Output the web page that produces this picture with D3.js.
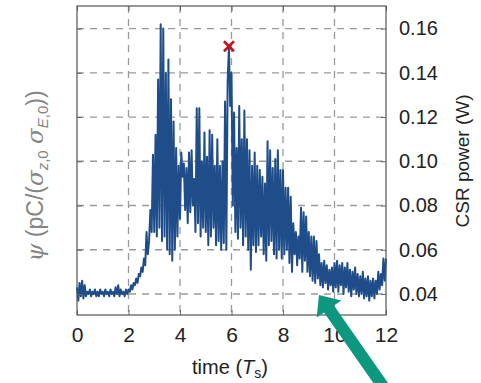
<!DOCTYPE html>
<html><head>
<meta charset="utf-8"/>
<title>CSR power</title>
<script src="https://d3js.org/d3.v7.min.js"></script>
<style>
  body { margin: 0; padding: 0; background: #fff; }
  svg text { font-family: 'Liberation Sans', Arial, sans-serif; }
</style>
</head>
<body>
<div id="chart"></div>
<script>
// time axis in T_s, sampled every 0.05
const timeStep = 0.05;
const xTicks = [0, 2, 4, 6, 8, 10, 12];
const yTicks = [0.04, 0.06, 0.08, 0.10, 0.12, 0.14, 0.16];
const yTickLabels = ["0.04", "0.06", "0.08", "0.10", "0.12", "0.14", "0.16"];

// CSR power (W), one row per unit of time
const power = [
  // 0 - 1
  0.043, 0.037, 0.045, 0.039, 0.046, 0.038, 0.044, 0.039, 0.041, 0.040,
  0.042, 0.039, 0.041, 0.040, 0.042, 0.039, 0.041, 0.039, 0.042, 0.040,
  // 1 - 2
  0.041, 0.039, 0.042, 0.040, 0.041, 0.039, 0.042, 0.040, 0.041, 0.039,
  0.043, 0.040, 0.044, 0.039, 0.042, 0.040, 0.041, 0.039, 0.042, 0.040,
  // 2 - 3
  0.042, 0.041, 0.044, 0.042, 0.045, 0.044, 0.047, 0.045, 0.049, 0.048,
  0.052, 0.050, 0.056, 0.053, 0.068, 0.058, 0.064, 0.078, 0.068, 0.103,
  // 3 - 4
  0.068, 0.112, 0.066, 0.137, 0.070, 0.162, 0.064, 0.160, 0.066, 0.140,
  0.060, 0.146, 0.058, 0.128, 0.055, 0.118, 0.060, 0.106, 0.066, 0.098,
  // 4 - 5
  0.074, 0.104, 0.093, 0.099, 0.078, 0.097, 0.072, 0.104, 0.077, 0.105,
  0.080, 0.092, 0.068, 0.124, 0.072, 0.124, 0.066, 0.100, 0.070, 0.113,
  // 5 - 6
  0.068, 0.102, 0.062, 0.114, 0.066, 0.112, 0.070, 0.098, 0.062, 0.110,
  0.064, 0.098, 0.060, 0.100, 0.063, 0.127, 0.060, 0.136, 0.151, 0.125,
  // 6 - 7
  0.140, 0.080, 0.122, 0.068, 0.106, 0.065, 0.125, 0.070, 0.110, 0.062,
  0.123, 0.066, 0.110, 0.060, 0.105, 0.051, 0.098, 0.062, 0.104, 0.059,
  // 7 - 8
  0.098, 0.062, 0.096, 0.066, 0.093, 0.058, 0.090, 0.055, 0.109, 0.062,
  0.105, 0.064, 0.097, 0.058, 0.101, 0.056, 0.105, 0.060, 0.096, 0.056,
  // 8 - 9
  0.096, 0.058, 0.088, 0.060, 0.088, 0.054, 0.084, 0.050, 0.072, 0.058,
  0.068, 0.053, 0.066, 0.056, 0.079, 0.050, 0.077, 0.055, 0.075, 0.050,
  // 9 - 10
  0.068, 0.048, 0.066, 0.046, 0.066, 0.045, 0.064, 0.047, 0.058, 0.044,
  0.054, 0.043, 0.055, 0.045, 0.053, 0.042, 0.051, 0.044, 0.052, 0.041,
  // 10 - 11
  0.054, 0.043, 0.055, 0.041, 0.053, 0.044, 0.054, 0.040, 0.052, 0.043,
  0.054, 0.041, 0.051, 0.039, 0.050, 0.042, 0.052, 0.040, 0.049, 0.039,
  // 11 - 12
  0.048, 0.040, 0.050, 0.038, 0.047, 0.039, 0.048, 0.037, 0.046, 0.039,
  0.047, 0.038, 0.046, 0.040, 0.050, 0.042, 0.049, 0.044, 0.056, 0.046,
  0.056
];

// marked maximum of the second peak
const peakTime = [5.9];
const peakValue = [0.152];

const W = 481, H = 383;
const margin = { top: 6, right: 95, bottom: 68, left: 77 };
const width = 386 - margin.left;
const height = 315 - margin.top;

const svg = d3.select("#chart").append("svg")
    .attr("width", W)
    .attr("height", H);

const g = svg.append("g")
    .attr("transform", `translate(${margin.left},${margin.top})`);

const x = d3.scaleLinear().domain([0, 12]).range([0, width]);
const y = d3.scaleLinear().domain([0.0305, 0.1702]).range([height, 0]);

// dashed grid
g.append("g").selectAll("line")
    .data(xTicks.slice(1, -1))
    .enter().append("line")
    .attr("x1", d => x(d)).attr("x2", d => x(d))
    .attr("y1", 0).attr("y2", height)
    .attr("stroke", "#9a9a9a").attr("stroke-width", 1.3)
    .attr("stroke-dasharray", "7,6");

g.append("g").selectAll("line")
    .data(yTicks)
    .enter().append("line")
    .attr("x1", 0).attr("x2", width)
    .attr("y1", d => y(d)).attr("y2", d => y(d))
    .attr("stroke", "#9a9a9a").attr("stroke-width", 1.3)
    .attr("stroke-dasharray", "7,6");

// the trace
const line = d3.line()
    .x((d, i) => x(i * timeStep))
    .y(d => y(d));

g.append("path")
    .datum(power)
    .attr("fill", "none")
    .attr("stroke", "#1f4d8a")
    .attr("stroke-width", 2)
    .attr("stroke-linejoin", "round")
    .attr("d", line);

// red cross
const cs = 5;
peakTime.forEach((t, i) => {
    const cx = x(t), cy = y(peakValue[i]);
    g.append("path")
        .attr("d", `M${cx - cs},${cy - cs}L${cx + cs},${cy + cs}M${cx - cs},${cy + cs}L${cx + cs},${cy - cs}`)
        .attr("stroke", "#c4121b")
        .attr("stroke-width", 2.5);
});

// axes with inward ticks
function styleAxis(sel) {
    sel.select(".domain").remove();
    sel.selectAll(".tick line").attr("stroke", "#666");
}

g.append("g")
    .attr("transform", `translate(0,${height})`)
    .call(d3.axisBottom(x).tickValues(xTicks).tickSizeInner(-5).tickPadding(12).tickFormat(d3.format("d")))
    .call(styleAxis)
    .selectAll("text")
    .attr("fill", "#222")
    .style("font-size", "21px");

g.append("g")
    .call(d3.axisTop(x).tickValues(xTicks).tickSizeInner(-5).tickFormat(""))
    .call(styleAxis);

g.append("g")
    .call(d3.axisLeft(y).tickValues(yTicks).tickSizeInner(-5).tickFormat(""))
    .call(styleAxis);

g.append("g")
    .attr("transform", `translate(${width},0)`)
    .call(d3.axisRight(y).tickValues(yTicks).tickSizeInner(-5).tickPadding(13)
        .tickFormat((d, i) => yTickLabels[i]))
    .call(styleAxis)
    .selectAll("text")
    .attr("fill", "#222")
    .style("font-size", "20px");

// frame
g.append("rect")
    .attr("width", width).attr("height", height)
    .attr("fill", "none").attr("stroke", "#555").attr("stroke-width", 1.2);

// axis titles
const xt = svg.append("text")
    .attr("x", 230).attr("y", 374)
    .attr("text-anchor", "middle")
    .attr("fill", "#222")
    .style("font-size", "20px");
xt.append("tspan").text("time (");
xt.append("tspan").style("font-style", "italic").text("T");
xt.append("tspan").attr("dy", 4).style("font-size", "14px").text("s");
xt.append("tspan").attr("dy", -4).text(")");

svg.append("text")
    .attr("transform", "translate(469,161) rotate(-90)")
    .attr("text-anchor", "middle")
    .attr("fill", "#222")
    .style("font-size", "19px")
    .text("CSR power (W)");

const yl = svg.append("text")
    .attr("transform", "translate(43,176) rotate(-90)")
    .attr("text-anchor", "middle")
    .attr("fill", "#858585")
    .style("font-size", "23px");
yl.append("tspan").style("font-family", "'DejaVu Serif', serif").style("font-style", "italic").text("ψ");
yl.append("tspan").text(" (pC/(");
yl.append("tspan").style("font-family", "'DejaVu Serif', serif").style("font-style", "italic").text("σ");
yl.append("tspan").attr("dy", 5).style("font-size", "15px").style("font-style", "italic").text("z");
yl.append("tspan").style("font-size", "15px").text(",0");
yl.append("tspan").attr("dy", -5).text(" ");
yl.append("tspan").style("font-family", "'DejaVu Serif', serif").style("font-style", "italic").text("σ");
yl.append("tspan").attr("dy", 5).style("font-size", "15px").style("font-style", "italic").text("E");
yl.append("tspan").style("font-size", "15px").text(",0");
yl.append("tspan").attr("dy", -5).text("))");

// teal arrow pointing at the tail of the trace
const tip = [319, 295], base = [329, 309], tail = [387, 392];
const dx = base[0] - tail[0], dy = base[1] - tail[1];
const len = Math.hypot(dx, dy);
const nx = -dy / len, ny = dx / len;
const sw = 6, hw = 15;
svg.append("path")
    .attr("d", `M${tail[0] + nx * sw},${tail[1] + ny * sw}
                L${base[0] + nx * sw},${base[1] + ny * sw}
                L${base[0] + nx * hw},${base[1] + ny * hw}
                L${tip[0]},${tip[1]}
                L${base[0] - nx * hw},${base[1] - ny * hw}
                L${base[0] - nx * sw},${base[1] - ny * sw}
                L${tail[0] - nx * sw},${tail[1] - ny * sw}Z`)
    .attr("fill", "#0c977f");
</script>
</body></html>
